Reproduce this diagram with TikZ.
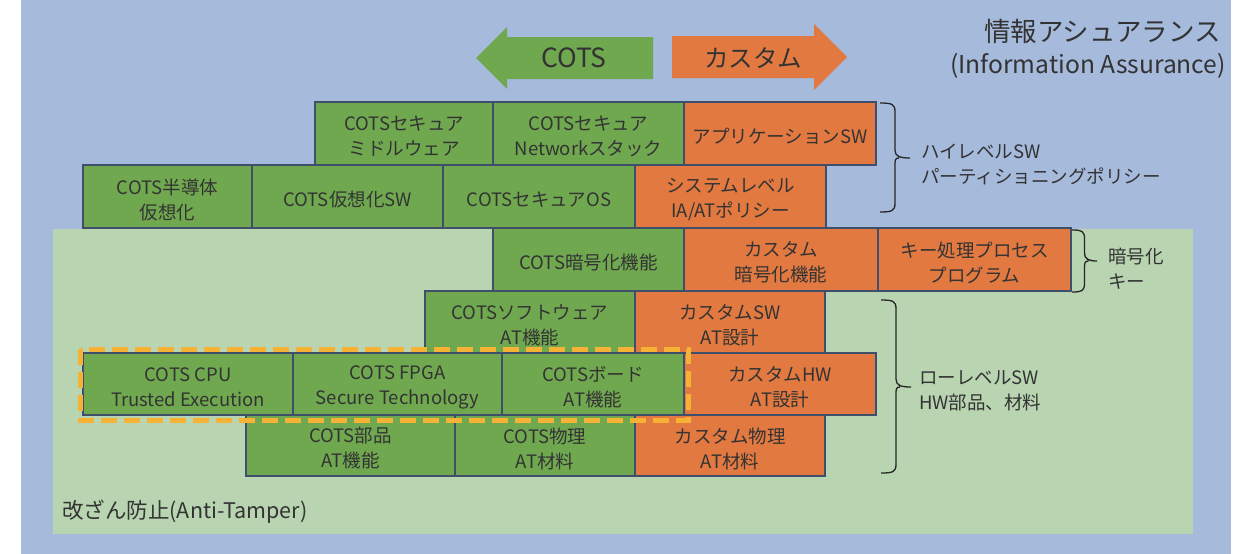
\documentclass[tikz,border=0pt]{standalone}
\usepackage{fontspec}
\setmainfont{Noto Sans CJK JP}
\definecolor{bgblue}{HTML}{A6BADC}
\definecolor{atgreen}{HTML}{B8D4B0}
\definecolor{boxgreen}{HTML}{70A850}
\definecolor{boxorange}{HTML}{E27940}
\definecolor{boxline}{HTML}{3F4F6B}
\definecolor{txtgray}{HTML}{333333}
\definecolor{dashor}{HTML}{F5B235}
\newcommand\drawbrace[5]{% x, ytop, ybot, ytip, width
  \draw[bracestyle] (#1,#2) .. controls (#1+0.8*#5,#2) and (#1+#5,#2+1) .. (#1+#5,#2+9)
    -- (#1+#5,#4-8) .. controls (#1+#5,#4-2) and (#1+#5+4,#4) .. (#1+2*#5,#4)
    (#1+#5+4,#4) .. controls (#1+#5,#4) and (#1+#5,#4+2) .. (#1+#5,#4+8)
    -- (#1+#5,#3-9) .. controls (#1+#5,#3-1) and (#1+0.8*#5,#3) .. (#1,#3);}
\begin{document}
\begin{tikzpicture}[x=1pt,y=-1pt,
  boxbase/.style={draw=boxline, line width=1.2pt, inner sep=0pt, outer sep=0pt},
  gbox/.style={boxbase, fill=boxgreen},
  obox/.style={boxbase, fill=boxorange},
  boxtext/.style={align=center, text=txtgray, inner sep=0pt, yshift=-3pt,
    font=\fontsize{18.5}{25}\selectfont},
  tx/.style={label={[boxtext]center:{#1}}},
  lbl/.style={text=txtgray, align=left, inner sep=0pt, font=\fontsize{18.5}{25}\selectfont},
  bracestyle/.style={draw=black!85, line width=1.3pt},
  arrowtxt/.style={text=txtgray, inner sep=0pt},
  titletxt/.style={text=txtgray, inner sep=0pt}]
\useasboundingbox (0,0) rectangle (1251,554);
\fill[white] (0,0) rectangle (1251,554);
\fill[bgblue] (21,0) rectangle (1231,554);
\fill[atgreen] (53,229) rectangle (1193,534);

% arrows
\fill[boxgreen] (653,37) -- (507,37) -- (507,27) -- (476,58) -- (507,89) -- (507,79) -- (653,79) -- cycle;
\fill[boxorange] (672,36) -- (814,36) -- (814,24) -- (847,57) -- (814,90) -- (814,78) -- (672,78) -- cycle;
\node[arrowtxt, font=\fontsize{26.5}{30}\selectfont] (cotsarrow) at (574,58) {COTS};
\node[arrowtxt, font=\fontsize{24.5}{30}\selectfont] (customarrow) at (753,58) {カスタム};

% title
\node[titletxt, anchor=east, font=\fontsize{26.5}{30}\selectfont] (title1) at (1221,31) {情報アシュアランス};
\node[titletxt, anchor=east, font=\fontsize{24.6}{30}\selectfont] (title2) at (1226,66) {(Information Assurance)};

% row 1
\node[gbox, minimum width=178, minimum height=63, tx={COTSセキュア\\ミドルウェア}] (m1) at (404,133.5) {};
\node[gbox, minimum width=191, minimum height=63, tx={COTSセキュア\\Networkスタック}] (m2) at (588.5,133.5) {};
\node[obox, minimum width=192, minimum height=63, tx={アプリケーションSW}] (m3) at (780,133.5) {};
% row 2
\node[gbox, minimum width=169, minimum height=63, tx={COTS半導体\\仮想化}] (a1) at (167.5,196.5) {};
\node[gbox, minimum width=191, minimum height=63, tx={COTS仮想化SW}] (a2) at (347.5,196.5) {};
\node[gbox, minimum width=192, minimum height=63, tx={COTSセキュアOS}] (a3) at (539,196.5) {};
\node[obox, minimum width=191, minimum height=63, tx={システムレベル\\IA/ATポリシー}] (a4) at (730.5,196.5) {};
% row 3
\node[gbox, minimum width=191, minimum height=63, tx={COTS暗号化機能}] (b1) at (588.5,259.5) {};
\node[obox, minimum width=194, minimum height=63, tx={カスタム\\暗号化機能}] (b2) at (781,259.5) {};
\node[obox, minimum width=193, minimum height=63, tx={キー処理プロセス\\プログラム}] (b3) at (974.5,259.5) {};
% row 4
\node[gbox, minimum width=210, minimum height=62, tx={COTSソフトウェア\\AT機能}] (c1) at (530,322) {};
\node[obox, minimum width=190, minimum height=62, tx={カスタムSW\\AT設計}] (c2) at (730,322) {};
% row 5
\node[gbox, minimum width=210, minimum height=62, tx={COTS CPU\\Trusted Execution}] (d1) at (188,384) {};
\node[gbox, minimum width=209, minimum height=62, tx={COTS FPGA\\Secure Technology}] (d2) at (397.5,384) {};
\node[gbox, minimum width=182, minimum height=62, tx={COTSボード\\AT機能}] (d3) at (593,384) {};
\node[obox, minimum width=192, minimum height=62, tx={カスタムHW\\AT設計}] (d4) at (780,384) {};
% row 6
\node[gbox, minimum width=209, minimum height=61, tx={COTS部品\\AT機能}] (e1) at (350.5,445.5) {};
\node[gbox, minimum width=180, minimum height=61, tx={COTS物理\\AT材料}] (e2) at (545,445.5) {};
\node[obox, minimum width=190, minimum height=61, tx={カスタム物理\\AT材料}] (e3) at (730,445.5) {};

% dashed highlight
\draw[dashor, line width=5pt, dash pattern=on 16pt off 7pt] (80.5,349) rectangle (688,420.5);

% braces
\drawbrace{880}{103}{212}{158}{15}
\drawbrace{1072}{230}{292}{261}{12.5}
\drawbrace{881}{300}{473}{387}{15}

% labels
\node[lbl, anchor=west] (hl) at (921,164) {ハイレベルSW\\パーティショニングポリシー};
\node[lbl, anchor=west] (kk) at (1108,269) {暗号化\\キー};
\node[lbl, anchor=west] (ll) at (919,391) {ローレベルSW\\HW部品、材料};
\node[lbl, anchor=west, font=\fontsize{21.5}{25}\selectfont] (at) at (62,512) {改ざん防止(Anti-Tamper)};
\end{tikzpicture}
\end{document}
